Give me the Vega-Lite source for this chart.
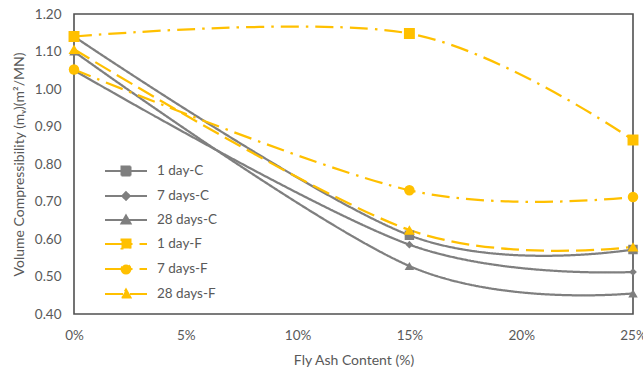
{
  "$schema": "https://vega.github.io/schema/vega-lite/v6.json",
  "width": 559,
  "height": 300,
  "autosize": {"type": "none"},
  "padding": {"left": 74, "top": 14, "right": 10, "bottom": 55},
  "background": "white",
  "config": {
    "font": "Lato",
    "view": {"stroke": "#505050", "strokeWidth": 1.6},
    "axis": {"grid": false, "ticks": false, "domain": false, "labelColor": "#595959", "titleColor": "#595959", "labelFontSize": 13.5, "titleFontSize": 14, "titleFontWeight": "normal", "labelFont": "Lato", "titleFont": "Lato"},
    "legend": {"orient": "none", "legendX": 41, "legendY": 146, "title": null, "symbolSize": 400, "symbolOpacity": 1, "symbolStrokeWidth": 2, "labelFontSize": 13.5, "labelColor": "#595959", "labelFont": "Lato", "labelOffset": 20, "rowPadding": 5}
  },
  "data": {"values": [
    {"series": "1 day-C", "x": 0, "y": 1.14},
    {"series": "1 day-C", "x": 0.15, "y": 0.61},
    {"series": "1 day-C", "x": 0.25, "y": 0.572},
    {"series": "7 days-C", "x": 0, "y": 1.05},
    {"series": "7 days-C", "x": 0.15, "y": 0.585},
    {"series": "7 days-C", "x": 0.25, "y": 0.512},
    {"series": "28 days-C", "x": 0, "y": 1.10},
    {"series": "28 days-C", "x": 0.15, "y": 0.528},
    {"series": "28 days-C", "x": 0.25, "y": 0.455},
    {"series": "1 day-F", "x": 0, "y": 1.14},
    {"series": "1 day-F", "x": 0.15, "y": 1.148},
    {"series": "1 day-F", "x": 0.25, "y": 0.864},
    {"series": "7 days-F", "x": 0, "y": 1.052},
    {"series": "7 days-F", "x": 0.15, "y": 0.73},
    {"series": "7 days-F", "x": 0.25, "y": 0.712},
    {"series": "28 days-F", "x": 0, "y": 1.106},
    {"series": "28 days-F", "x": 0.15, "y": 0.624},
    {"series": "28 days-F", "x": 0.25, "y": 0.579}
  ]},
  "encoding": {
    "x": {"field": "x", "type": "quantitative",
      "scale": {"domain": [0, 0.25], "nice": false},
      "axis": {"values": [0, 0.05, 0.1, 0.15, 0.2, 0.25], "format": ".0%", "labelFlush": false, "labelPadding": 14, "title": "Fly Ash Content (%)", "titlePadding": 12}},
    "y": {"field": "y", "type": "quantitative",
      "scale": {"domain": [0.4, 1.2], "nice": false, "zero": false},
      "axis": {"values": [0.4, 0.5, 0.6, 0.7, 0.8, 0.9, 1.0, 1.1, 1.2], "format": ".2f", "labelFlush": false, "labelPadding": 13, "title": "Volume Compressibility (mᵥ)(m²/MN)", "titlePadding": 8}}
  },
  "layer": [
    {
      "mark": {"type": "line", "interpolate": "cardinal", "tension": 0, "strokeWidth": 2.25},
      "encoding": {
        "color": {"field": "series", "type": "nominal",
          "scale": {"domain": ["1 day-C", "7 days-C", "28 days-C", "1 day-F", "7 days-F", "28 days-F"],
                    "range": ["#7F7F7F", "#7F7F7F", "#7F7F7F", "#FFC000", "#FFC000", "#FFC000"]}},
        "strokeDash": {"field": "series", "type": "nominal",
          "scale": {"domain": ["1 day-C", "7 days-C", "28 days-C", "1 day-F", "7 days-F", "28 days-F"],
                    "range": [[1, 0], [1, 0], [1, 0], [18, 7, 2.5, 7], [18, 7, 2.5, 7], [18, 7]]}}
      }
    },
    {
      "mark": {"type": "point", "filled": true, "opacity": 0, "strokeWidth": 2},
      "encoding": {
        "color": {"field": "series", "type": "nominal"},
        "strokeDash": {"field": "series", "type": "nominal"},
        "shape": {"field": "series", "type": "nominal",
          "scale": {"domain": ["1 day-C", "7 days-C", "28 days-C", "1 day-F", "7 days-F", "28 days-F"],
                    "range": [
                      "M-2.1,0L2.1,0M-0.45,-0.45L0.45,-0.45L0.45,0.45L-0.45,0.45Z",
                      "M-2.1,0L2.1,0M0,-0.38L0.38,0L0,0.38L-0.38,0Z",
                      "M-2.1,0L2.1,0M0,-0.45L0.45,0.35L-0.45,0.35Z",
                      "M-2.1,0L2.1,0M-0.45,-0.45L0.45,-0.45L0.45,0.45L-0.45,0.45Z",
                      "M-2.1,0L2.1,0M-0.45,0A0.45,0.45 0 1,0 0.45,0A0.45,0.45 0 1,0 -0.45,0Z",
                      "M-2.1,0L2.1,0M0,-0.45L0.45,0.35L-0.45,0.35Z"
                    ]}}
      }
    },
    {"transform": [{"filter": "datum.series == '1 day-C'"}], "mark": {"type": "point", "filled": true, "opacity": 1, "shape": "square", "size": 90, "color": "#7F7F7F"}},
    {"transform": [{"filter": "datum.series == '7 days-C'"}], "mark": {"type": "point", "filled": true, "opacity": 1, "shape": "diamond", "size": 60, "color": "#7F7F7F"}},
    {"transform": [{"filter": "datum.series == '28 days-C'"}], "mark": {"type": "point", "filled": true, "opacity": 1, "shape": "triangle-up", "size": 90, "color": "#7F7F7F"}},
    {"transform": [{"filter": "datum.series == '1 day-F'"}], "mark": {"type": "point", "filled": true, "opacity": 1, "shape": "square", "size": 120, "color": "#FFC000"}},
    {"transform": [{"filter": "datum.series == '7 days-F'"}], "mark": {"type": "point", "filled": true, "opacity": 1, "shape": "circle", "size": 110, "color": "#FFC000"}},
    {"transform": [{"filter": "datum.series == '28 days-F'"}], "mark": {"type": "point", "filled": true, "opacity": 1, "shape": "triangle-up", "size": 120, "color": "#FFC000"}}
  ]
}
